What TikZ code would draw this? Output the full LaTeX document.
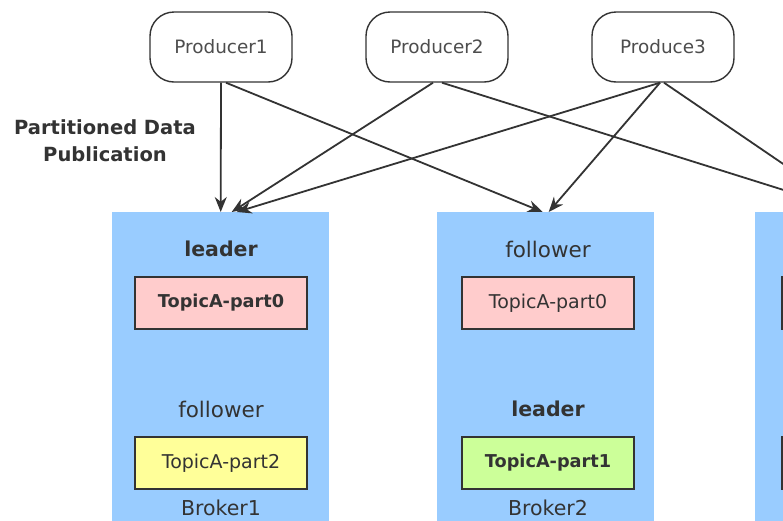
\documentclass[tikz,border=0pt]{standalone}
\usepackage{fontspec}
\setmainfont{DejaVu Sans}
\usepackage{tikz}
\usetikzlibrary{arrows.meta,positioning}
\definecolor{brokerblue}{HTML}{99CCFF}
\definecolor{partred}{HTML}{FFCCCC}
\definecolor{partyellow}{HTML}{FFFF99}
\definecolor{partgreen}{HTML}{CCFF99}
\definecolor{inkgray}{HTML}{333333}
\definecolor{txtgray}{HTML}{4D4D4D}

\begin{document}
\begin{tikzpicture}[x=1pt,y=-1pt,
    producer/.style={draw=inkgray, line width=1.4pt, rounded corners=24pt, fill=white,
      minimum width=142pt, minimum height=70pt, text=txtgray,
      font=\fontsize{18.4}{21}\selectfont},
    broker/.style={fill=brokerblue, minimum width=217pt, minimum height=340pt,
      anchor=north west, inner sep=0pt},
    part/.style={draw=inkgray, line width=1.7pt, minimum width=172pt, minimum height=52pt,
      text=inkgray, font=\fontsize{19}{22}\selectfont},
    role/.style={text=inkgray, font=\fontsize{21.5}{24}\selectfont},
    flow/.style={draw=inkgray, line width=1.8pt, -{Stealth[length=15pt,width=12pt]}}]
          \useasboundingbox (0,0) rectangle (783,520);
          \clip (0,0) rectangle (783,520);
          \fill[white] (0,0) rectangle (783,520);
          % brokers
          \node[broker] (broker1) at (112,212) {};
          \node[broker] (broker2) at (437,212) {};
          \node[broker] (broker3) at (755,212) {};
          % producers
          \node[producer] (prod1) at (221,47) {Producer1};
          \node[producer] (prod2) at (437,47) {Producer2};
          \node[producer] (prod3) at (663,47) {Produce3};
          % heading
          \node[text=inkgray, align=center, font=\fontsize{19.5}{27}\selectfont\bfseries] (pubtitle) at (105,141) {Partitioned Data\\Publication};
          % broker1
          \node[role, font=\fontsize{20.5}{24}\selectfont\bfseries] (b1lead) at (221,249) {leader};
          \node[part, fill=partred, font=\fontsize{17.7}{21}\selectfont\bfseries] (b1p0) at (221,303) {TopicA-part0};
          \node[role] (b1foll) at (221,409) {follower};
          \node[part, fill=partyellow] (b1p2) at (221,463) {TopicA-part2};
          \node[role, font=\fontsize{20.5}{24}\selectfont] (b1name) at (221,508) {Broker1};
          % broker2
          \node[role] (b2foll) at (548,249) {follower};
          \node[part, fill=partred] (b2p0) at (548,303) {TopicA-part0};
          \node[role, font=\fontsize{20.5}{24}\selectfont\bfseries] (b2lead) at (548,409) {leader};
          \node[part, fill=partgreen, font=\fontsize{17.7}{21}\selectfont\bfseries] (b2p1) at (548,463) {TopicA-part1};
          \node[role, font=\fontsize{20.5}{24}\selectfont] (b2name) at (548,508) {Broker2};
          % broker3
          \node[part, fill=partyellow, anchor=west] (b3top) at (781,303) {};
          \node[part, fill=partyellow, anchor=west] (b3bot) at (781,463) {};
          % publication arrows
          \draw[flow] (prod1.south) -- (broker1.north);
          \draw[flow] ([xshift=5pt]prod1.south) -- ([xshift=-3pt]broker2.north);
          \draw[flow] ([xshift=-4pt]prod2.south) -- ([xshift=11pt]broker1.north);
          \draw[flow] ([xshift=5pt]prod2.south) -- ([xshift=-10pt]broker3.north);
          \draw[flow] ([xshift=-3pt]prod3.south) -- ([xshift=16pt]broker1.north);
          \draw[flow] ([xshift=-3pt]prod3.south) -- ([xshift=3pt]broker2.north);
          \draw[flow] ([xshift=1pt]prod3.south) -- ([xshift=-10pt]broker3.north);
        \end{tikzpicture}
\end{document}
